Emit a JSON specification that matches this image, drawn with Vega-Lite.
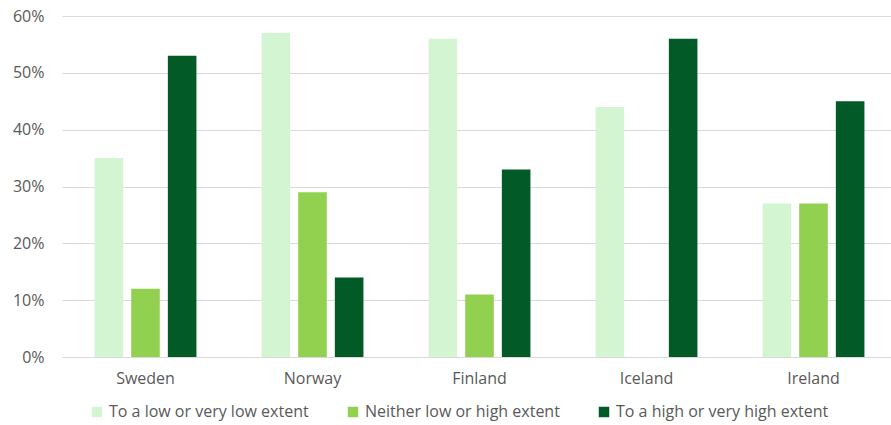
{
  "$schema": "https://vega.github.io/schema/vega-lite/v6.json",
  "width": 835,
  "height": 341,
  "autosize": {"type": "none"},
  "padding": {"left": 62, "top": 16, "right": 0, "bottom": 68},
  "background": "white",
  "config": {
    "font": "Open Sans",
    "view": {"stroke": null}
  },
  "data": {
    "values": [
      {"country": "Sweden", "extent": "To a low or very low extent", "value": 35},
      {"country": "Sweden", "extent": "Neither low or high extent", "value": 12},
      {"country": "Sweden", "extent": "To a high or very high extent", "value": 53},
      {"country": "Norway", "extent": "To a low or very low extent", "value": 57},
      {"country": "Norway", "extent": "Neither low or high extent", "value": 29},
      {"country": "Norway", "extent": "To a high or very high extent", "value": 14},
      {"country": "Finland", "extent": "To a low or very low extent", "value": 56},
      {"country": "Finland", "extent": "Neither low or high extent", "value": 11},
      {"country": "Finland", "extent": "To a high or very high extent", "value": 33},
      {"country": "Iceland", "extent": "To a low or very low extent", "value": 44},
      {"country": "Iceland", "extent": "Neither low or high extent", "value": 0},
      {"country": "Iceland", "extent": "To a high or very high extent", "value": 56},
      {"country": "Ireland", "extent": "To a low or very low extent", "value": 27},
      {"country": "Ireland", "extent": "Neither low or high extent", "value": 27},
      {"country": "Ireland", "extent": "To a high or very high extent", "value": 45}
    ]
  },
  "mark": {"type": "bar"},
  "encoding": {
    "x": {
      "field": "country",
      "type": "nominal",
      "sort": ["Sweden", "Norway", "Finland", "Iceland", "Ireland"],
      "scale": {"paddingInner": 0.39, "paddingOuter": 0.195},
      "axis": {
        "title": null,
        "labelAngle": 0,
        "labelColor": "#595959",
        "labelFontSize": 16,
        "labelPadding": 13,
        "domainColor": "#d9d9d9",
        "domainWidth": 1,
        "ticks": false,
        "grid": false
      }
    },
    "xOffset": {
      "field": "extent",
      "type": "nominal",
      "sort": ["To a low or very low extent", "Neither low or high extent", "To a high or very high extent"],
      "scale": {"paddingInner": 0.22, "paddingOuter": 0}
    },
    "y": {
      "field": "value",
      "type": "quantitative",
      "scale": {"domain": [0, 60]},
      "axis": {
        "title": null,
        "values": [0, 10, 20, 30, 40, 50, 60],
        "labelExpr": "datum.value + '%'",
        "labelColor": "#595959",
        "labelFontSize": 16,
        "labelPadding": 18,
        "domain": false,
        "ticks": false,
        "gridColor": "#d9d9d9",
        "gridWidth": 1
      }
    },
    "color": {
      "field": "extent",
      "type": "nominal",
      "sort": ["To a low or very low extent", "Neither low or high extent", "To a high or very high extent"],
      "scale": {
        "domain": ["To a low or very low extent", "Neither low or high extent", "To a high or very high extent"],
        "range": ["#d4f5d1", "#92d050", "#025a27"]
      },
      "legend": {
        "title": null,
        "orient": "none",
        "direction": "horizontal",
        "legendX": 27,
        "legendY": 388,
        "symbolType": "square",
        "symbolSize": 110,
        "symbolStrokeWidth": 0,
        "labelFontSize": 16,
        "labelLimit": 400,
        "labelColor": "#595959",
        "labelOffset": 4,
        "columnPadding": 36,
        "gridAlign": "none"
      }
    }
  }
}
